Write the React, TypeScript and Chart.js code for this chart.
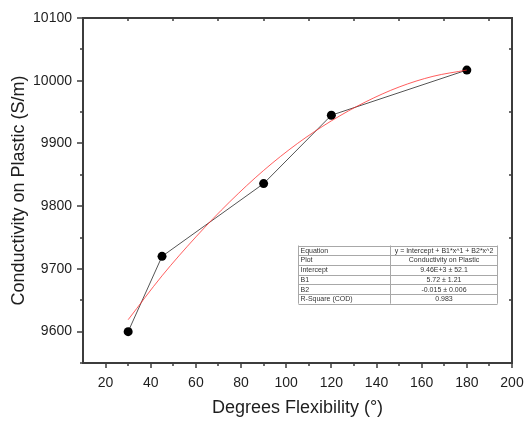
import React, { useEffect, useRef } from 'react';
import { Chart, registerables } from 'chart.js';

Chart.register(...registerables);

// Measured data (Degrees Flexibility vs Conductivity)
const degrees = [30, 45, 90, 120, 180];
const conductivity = [9600, 9720, 9836, 9945, 10017];

// Red quadratic fit curve
const fitDegrees = [30, 45, 60, 75, 90, 105, 120, 135, 150, 165, 180];
const fitConductivity = [9619, 9689, 9751, 9807, 9857, 9900, 9936, 9966, 9990, 10007, 10017];

// Axis ranges
const xMin = 10;
const xMax = 200;
const yMin = 9550;
const yMax = 10100;

// Fit result table
const tableLabels = ['Equation', 'Plot', 'Intercept', 'B1', 'B2', 'R-Square (COD)'];
const tableValues = [
  'y = Intercept + B1*x^1 + B2*x^2',
  'Conductivity on Plastic',
  '9.46E+3 \u00b1 52.1',
  '5.72 \u00b1 1.21',
  '-0.015 \u00b1 0.006',
  '0.983',
];

const FONT = '"Liberation Sans", Arial, Helvetica, sans-serif';
const AXIS_COLOR = '#3c3c3c';

const framePlugin = {
  id: 'originFrame',
  afterDatasetsDraw(chart: any) {
    const { ctx, chartArea: a, scales } = chart;
    const xs = scales.x;
    const ys = scales.y;
    ctx.save();
    ctx.strokeStyle = AXIS_COLOR;
    ctx.lineWidth = 2;
    ctx.strokeRect(a.left, a.top, a.right - a.left, a.bottom - a.top);

    ctx.lineWidth = 1.5;
    ctx.beginPath();
    // bottom ticks (outward)
    for (let v = 20; v <= xMax; v += 10) {
      const px = Math.round(xs.getPixelForValue(v));
      const len = v % 20 === 0 ? 5 : 3;
      ctx.moveTo(px, a.bottom);
      ctx.lineTo(px, a.bottom + len);
    }
    // top ticks (inward, minor positions)
    for (let v = 30; v < xMax; v += 20) {
      const px = Math.round(xs.getPixelForValue(v));
      ctx.moveTo(px, a.top);
      ctx.lineTo(px, a.top + 3);
    }
    // left ticks (outward)
    for (let v = yMin; v <= yMax; v += 50) {
      const py = Math.round(ys.getPixelForValue(v));
      const len = v % 100 === 0 ? 6 : 3;
      ctx.moveTo(a.left, py);
      ctx.lineTo(a.left - len, py);
    }
    // right ticks (inward, minor positions)
    for (let v = 9650; v < yMax; v += 100) {
      const py = Math.round(ys.getPixelForValue(v));
      ctx.moveTo(a.right, py);
      ctx.lineTo(a.right - 3, py);
    }
    ctx.stroke();

    // Fit table
    const w = a.right - a.left;
    const h = a.bottom - a.top;
    const tLeft = Math.round(a.left + w * 0.501) + 0.5;
    const tTop = Math.round(a.top + h * 0.658) + 0.5;
    const tWidth = 199;
    const col1 = 92;
    const rowH = 9.7;
    const rows = tableLabels.length;
    ctx.fillStyle = '#ffffff';
    ctx.fillRect(tLeft, tTop, tWidth, rowH * rows);
    ctx.strokeStyle = '#a8a8a8';
    ctx.lineWidth = 1;
    ctx.beginPath();
    for (let i = 0; i <= rows; i++) {
      const yy = Math.round(tTop + i * rowH) + 0.5;
      ctx.moveTo(tLeft, yy);
      ctx.lineTo(tLeft + tWidth, yy);
    }
    ctx.moveTo(tLeft, tTop);
    ctx.lineTo(tLeft, tTop + rowH * rows);
    ctx.moveTo(tLeft + col1, tTop);
    ctx.lineTo(tLeft + col1, tTop + rowH * rows);
    ctx.moveTo(tLeft + tWidth, tTop);
    ctx.lineTo(tLeft + tWidth, tTop + rowH * rows);
    ctx.stroke();

    ctx.fillStyle = '#333333';
    ctx.font = `7px ${FONT}`;
    ctx.textBaseline = 'middle';
    for (let i = 0; i < rows; i++) {
      const cy = tTop + i * rowH + rowH / 2 + 0.5;
      ctx.textAlign = 'left';
      ctx.fillText(tableLabels[i], tLeft + 2, cy);
      ctx.textAlign = 'center';
      ctx.fillText(tableValues[i], tLeft + col1 + (tWidth - col1) / 2, cy);
    }
    ctx.restore();
  },
};

export default function App() {
  const canvasRef = useRef<HTMLCanvasElement | null>(null);

  useEffect(() => {
    const canvas = canvasRef.current;
    if (!canvas) return;
    const chart = new Chart(canvas, {
      type: 'scatter',
      data: {
        datasets: [
          {
            label: 'Fit',
            data: fitDegrees.map((x, i) => ({ x, y: fitConductivity[i] })),
            showLine: true,
            borderColor: 'rgba(255, 40, 40, 0.75)',
            borderWidth: 1,
            pointRadius: 0,
            tension: 0.4,
            cubicInterpolationMode: 'monotone',
            order: 0,
          },
          {
            label: 'Conductivity on Plastic',
            data: degrees.map((x, i) => ({ x, y: conductivity[i] })),
            showLine: true,
            borderColor: '#555555',
            borderWidth: 1,
            pointRadius: 4.5,
            pointBackgroundColor: '#000000',
            pointBorderColor: '#000000',
            pointBorderWidth: 0,
            order: 1,
          },
        ],
      },
      options: {
        animation: false,
        responsive: false,
        maintainAspectRatio: false,
        layout: { padding: { top: 18, right: 12, left: 0, bottom: 0 } },
        plugins: {
          legend: { display: false },
          tooltip: { enabled: false },
        },
        scales: {
          x: {
            type: 'linear',
            min: xMin,
            max: xMax,
            afterFit: (scale: any) => {
              scale.height = 59;
              scale.paddingRight = 0;
              scale.paddingLeft = 0;
            },
            ticks: {
              stepSize: 10,
              autoSkip: false,
              maxRotation: 0,
              padding: 6,
              color: '#1e1e1e',
              font: { family: FONT, size: 14 },
              callback: (v: any) => (Number(v) % 20 === 0 && Number(v) >= 20 ? String(v) : ''),
            },
            grid: {
              display: true,
              drawOnChartArea: false,
              drawTicks: true,
              tickLength: 6,
              tickColor: 'rgba(0,0,0,0)',
            },
            border: { display: false },
            title: {
              display: true,
              text: 'Degrees Flexibility (\u00b0)',
              color: '#1e1e1e',
              font: { family: FONT, size: 18 },
              padding: { top: 4, bottom: 3 },
            },
          },
          y: {
            type: 'linear',
            min: yMin,
            max: yMax,
            afterFit: (scale: any) => {
              scale.width = 83;
              scale.paddingTop = 0;
              scale.paddingBottom = 0;
            },
            ticks: {
              stepSize: 50,
              autoSkip: false,
              padding: 5,
              color: '#1e1e1e',
              font: { family: FONT, size: 14 },
              callback: (v: any) => (Number(v) % 100 === 0 ? String(v) : ''),
            },
            grid: {
              display: true,
              drawOnChartArea: false,
              drawTicks: true,
              tickLength: 6,
              tickColor: 'rgba(0,0,0,0)',
            },
            border: { display: false },
            title: {
              display: true,
              text: 'Conductivity on Plastic (S/m)',
              color: '#1e1e1e',
              font: { family: FONT, size: 18 },
              padding: { top: 8, bottom: 4 },
            },
          },
        },
      },
      plugins: [framePlugin],
    });
    return () => chart.destroy();
  }, []);

  return (
    <div style={{ position: 'absolute', left: 0, top: 0, width: 524, height: 422, background: '#fff' }}>
      <canvas ref={canvasRef} width={524} height={422} style={{ display: 'block' }} />
    </div>
  );
}
